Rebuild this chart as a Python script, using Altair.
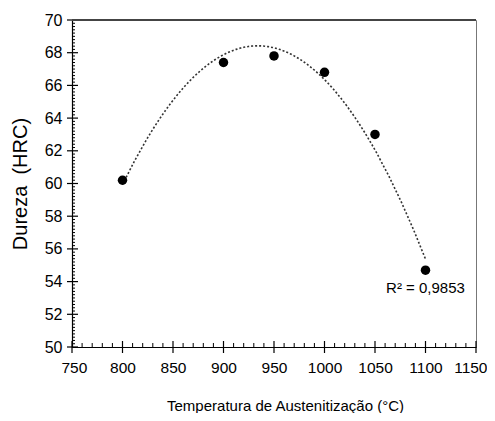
import altair as alt
import pandas as pd

temps = [800, 900, 950, 1000, 1050, 1100]
hardness = [60.2, 67.4, 67.8, 66.8, 63.0, 54.7]

x_major = list(range(750, 1151, 50))
x_minor = [v for v in range(750, 1151, 10) if v % 50 != 0]
y_major = list(range(50, 71, 2))
y_minor = [round(50 + 0.2 * i, 1) for i in range(101) if i % 10 != 0]

r2_text = ["R² = 0,9853"]
r2_x = [1100]
r2_y = [53.6]

W, H = 404, 327

df = pd.DataFrame({"t": temps, "h": hardness})
lab = pd.DataFrame({"t": r2_x, "h": r2_y, "txt": r2_text})
xmaj = pd.DataFrame({"t": x_major})
xmin = pd.DataFrame({"t": x_minor})
ymaj = pd.DataFrame({"h": y_major})
ymin = pd.DataFrame({"h": y_minor})

FONT = "Liberation Sans, Arial"
xs = alt.Scale(domain=[750, 1150], nice=False, zero=False)
ys = alt.Scale(domain=[50, 70], nice=False, zero=False)

AX = alt.Axis(
    orient="bottom", grid=False, ticks=False, values=x_major, format="d",
    labelOverlap=False, labelFlush=True, labelFlushOffset=11,
    domainColor="black", domainWidth=1.2,
    labelFont=FONT, labelFontSize=15.5, labelColor="black", labelPadding=13,
    title="Temperatura de Austenitização (°C)",
    titleFont=FONT, titleFontSize=15, titleFontWeight="normal", titleColor="black",
    titleX=213, titleY=63, titleBaseline="alphabetic")
AY = alt.Axis(
    orient="left", grid=False, ticks=False, values=y_major, format="d",
    labelOverlap=False, labelFlush=False,
    domainColor="black", domainWidth=1.2,
    labelFont=FONT, labelFontSize=16, labelColor="black", labelPadding=10,
    title="Dureza\u00a0\u00a0(HRC)",
    titleFont=FONT, titleFontSize=20, titleFontWeight="normal", titleColor="black",
    titleX=-52, titleBaseline="middle")

X = lambda: alt.X("t:Q", scale=xs, axis=AX)
Y = lambda: alt.Y("h:Q", scale=ys, axis=AY)

xmaj_ticks = alt.Chart(xmaj).mark_rule(color="black", strokeWidth=1.2).encode(
    x=X(), y=alt.value(H - 6), y2=alt.value(H + 6))
xmin_ticks = alt.Chart(xmin).mark_rule(color="black", strokeWidth=1).encode(
    x=X(), y=alt.value(H - 4), y2=alt.value(H))
ymaj_ticks = alt.Chart(ymaj).mark_rule(color="black", strokeWidth=1.2).encode(
    y=Y(), x=alt.value(-5), x2=alt.value(6))
ymin_ticks = alt.Chart(ymin).mark_rule(color="black", strokeWidth=1).encode(
    y=Y(), x=alt.value(0), x2=alt.value(3))

points = alt.Chart(df).mark_circle(size=90, color="black", opacity=1).encode(x=X(), y=Y())

trend = alt.Chart(df).transform_regression(
    "t", "h", method="poly", order=2
).mark_line(color="#333333", strokeWidth=1.6, strokeDash=[2, 2]).encode(x=X(), y=Y())

label = alt.Chart(lab).mark_text(
    font=FONT, fontSize=15, color="black", align="center", baseline="middle"
).encode(x=X(), y=Y(), text="txt:N")

topline = alt.Chart(lab).mark_rule(color="#444444", strokeWidth=2).encode(
    x=alt.value(0), x2=alt.value(W), y=alt.value(0))

chart = alt.layer(
    xmaj_ticks, xmin_ticks, ymaj_ticks, ymin_ticks, topline, trend, points, label
).properties(
    width=W, height=H,
    autosize=alt.AutoSizeParams(type="none"),
    padding={"left": 64, "top": 12, "right": 11, "bottom": 66},
).configure_view(stroke="#777777", strokeWidth=1)

chart.save("out.html", embed_options={"renderer": "svg", "actions": False})
